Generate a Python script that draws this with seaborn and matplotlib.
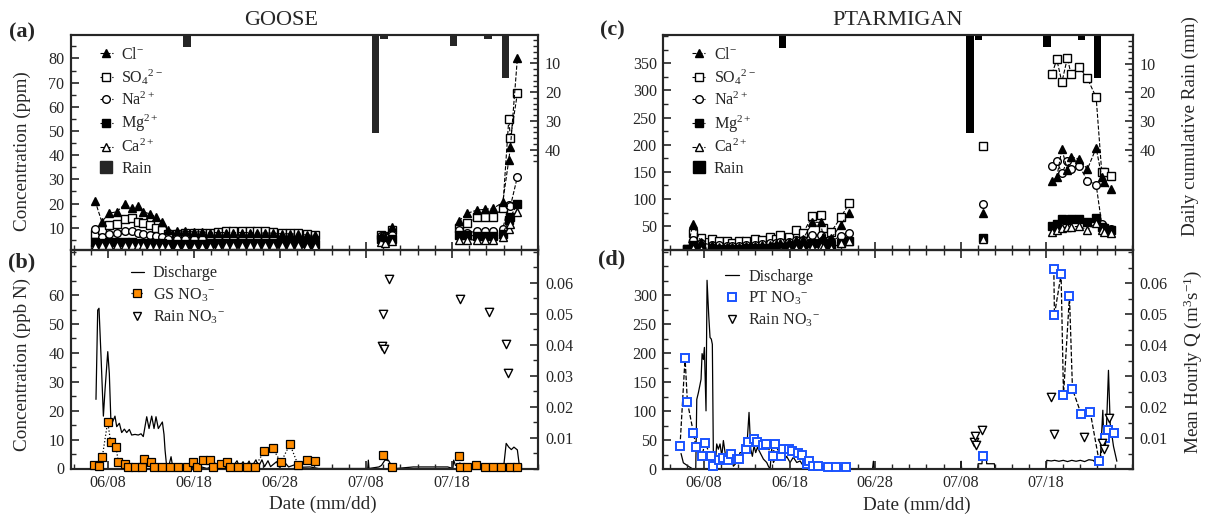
import numpy as np
import pandas as pd
import matplotlib
matplotlib.use('Agg')
import matplotlib.pyplot as plt
import seaborn as sns
from matplotlib.lines import Line2D
from matplotlib.ticker import MultipleLocator, FixedLocator

# x values are days counted from 1 June (06/08 -> 8, 07/18 -> 48)
DATE_TICKS = [8, 18, 28, 38, 48]
DATE_LABELS = ['06/08', '06/18', '06/28', '07/08', '07/18']

# GOOSE major ions (ppm), three sampling periods
GS_ION_DAYS = [6.49, 7.27, 8.15, 9.01, 9.98, 10.75, 11.53, 12.1, 12.88, 13.58, 14.24, 15.01, 15.98,
               16.95, 18.0, 18.89, 19.86, 20.83, 21.72, 22.57, 23.55, 24.51, 25.29, 26.26, 27.22,
               28.19, 29.16, 30.13, 31.1, 32.07,
               39.7, 40.2, 41.0,
               48.8, 49.8, 50.9, 51.8, 52.8, 53.9, 54.6, 54.8, 55.6]
GS_ION_SEGS = [30, 3, 9]
GS_CL = [21.2, 12.5, 16.0, 16.6, 19.8, 18.0, 19.0, 16.6, 15.7, 14.5, 12.5, 9.0, 8.8, 8.5, 8.3,
         8.3, 8.0, 8.0, 8.0, 8.0, 8.0, 8.0, 7.8, 7.8, 7.8, 7.5, 7.5, 7.3, 7.0, 6.8,
         6.5, 6.0, 10.4,
         12.8, 16.0, 17.3, 17.6, 18.0, 20.5, 38.0, 43.5, 80.0]
GS_SO4 = [7.5, 9.0, 11.0, 11.5, 13.5, 13.9, 12.5, 12.0, 11.0, 10.0, 9.0, 7.5, 7.5, 7.8, 7.8,
          8.0, 8.0, 8.2, 8.5, 8.5, 8.5, 8.5, 8.5, 8.5, 8.3, 8.0, 8.0, 7.8, 7.5, 7.0,
          7.0, 6.5, 9.0,
          10.0, 12.0, 14.5, 14.5, 14.5, 18.0, 54.8, 47.0, 65.5]
GS_NA = [9.3, 6.0, 7.5, 8.0, 8.5, 8.5, 8.0, 7.5, 7.2, 6.5, 6.2, 5.5, 5.5, 5.5, 5.5,
         5.5, 5.5, 5.5, 5.6, 5.6, 5.6, 5.6, 5.6, 5.6, 5.6, 5.5, 5.5, 5.5, 5.5, 5.5,
         6.5, 6.0, 7.0,
         9.0, 8.0, 8.5, 8.5, 8.5, 9.5, 19.4, 19.0, 31.0]
GS_MG = [4.2, 3.8, 4.0, 4.2, 4.2, 4.0, 3.8, 3.8, 3.6, 3.5, 3.5, 3.3, 3.3, 3.3, 3.3,
         3.3, 3.5, 3.5, 3.6, 3.6, 3.6, 3.6, 3.6, 3.6, 3.6, 3.6, 3.6, 3.6, 3.5, 3.3,
         5.5, 4.5, 5.5,
         7.0, 7.0, 6.5, 6.5, 6.5, 7.5, 13.0, 14.5, 19.8]
GS_CA = [2.5, 2.7, 2.8, 2.9, 2.9, 2.8, 2.7, 2.7, 2.6, 2.6, 2.6, 2.5, 2.5, 2.5, 2.5,
         2.5, 2.6, 2.6, 2.7, 2.7, 2.7, 2.7, 2.7, 2.7, 2.7, 2.7, 2.7, 2.7, 2.6, 2.5,
         4.0, 3.5, 4.5,
         5.0, 5.0, 5.0, 5.0, 5.0, 6.0, 9.5, 11.5, 16.6]

# PTARMIGAN major ions (ppm)
PT_ION_DAYS = [6.05, 6.71, 7.69, 8.97, 9.75, 10.69, 11.31, 12.09, 12.87, 13.92, 14.82, 15.68,
               16.38, 16.93, 17.94, 18.72, 19.58, 20.67, 21.64, 21.92, 22.89, 23.99, 24.96,
               40.67,
               48.7, 49.25, 49.84, 50.49, 50.89, 51.86, 52.83, 53.85, 54.5, 54.8, 55.56]
PT_ION_SEGS = [23, 1, 11]
PT_SO4 = [8, 37, 28, 26, 22, 22, 19, 22, 22, 26, 25, 30, 26, 34, 30, 42, 37, 69, 71, 46, 40, 66, 92,
          197,
          331, 357, 315, 360, 331, 343, 322, 287, 150, 150, 143]
PT_CL = [8, 54, 20, 15, 12, 12, 12, 12, 13, 14, 15, 16, 17, 18, 20, 24, 26, 57, 57, 30, 28, 52, 75,
         74,
         133, 140, 192, 153, 178, 173, 155, 194, 141, 132, 118]
PT_NA = [8, 25, 18, 16, 15, 14, 14, 14, 15, 16, 17, 18, 18, 20, 20, 24, 25, 33, 34, 24, 22, 32, 38,
         91,
         160, 170, 147, 170, 155, 161, 134, 126, 54, 48, 44]
PT_MG = [7, 15, 10, 9, 8, 8, 8, 8, 9, 9, 10, 10, 11, 12, 12, 14, 14, 18, 19, 15, 14, 18, 22,
         29,
         50, 54, 63, 62, 63, 63, 58, 65, 49, 46, 43]
PT_CA = [7, 10, 7, 7, 7, 7, 7, 7, 7, 7, 7, 7, 7, 8, 8, 10, 10, 12, 13, 11, 10, 18, 22,
         27,
         40, 43, 47, 48, 48, 50, 43, 56, 43, 40, 38]

# daily cumulative rain (mm)
GS_RAIN_DAYS = [17.2, 39.1, 40.1, 48.2, 52.2, 54.2]
GS_RAIN_MM = [4.3, 34.3, 1.5, 3.8, 1.5, 15.0]
PT_RAIN_DAYS = [17.2, 39.1, 40.1, 48.1, 52.1, 54.0]
PT_RAIN_MM = [4.6, 34.3, 1.8, 4.2, 1.8, 15.1]

# stream nitrate (ppb N)
GS_NO3_DAYS = [6.41, 6.99, 7.34, 7.96, 8.31, 8.93, 9.2, 9.98, 10.3, 11.14, 11.92, 12.22, 12.96,
               13.4, 14.24, 15.2, 16.17, 17.15, 17.92, 18.3, 19.01, 19.86, 20.24, 21.14, 21.8,
               22.19, 23.15, 24.13, 25.1, 26.17, 27.14, 28.1, 29.15, 30.12, 31.1, 32.07,
               40.0, 41.0,
               48.85, 48.95, 49.8, 50.8, 51.8, 52.8, 53.7, 54.7, 55.5]
GS_NO3_SEGS = [36, 2, 9]
GS_NO3 = [1.1, 0.7, 4.1, 16.2, 9.1, 7.4, 2.3, 1.7, 0.6, 0.6, 0.6, 3.2, 2.1,
          0.6, 0.6, 0.6, 0.6, 0.6, 2.3, 0.6, 2.8, 3.0, 0.6, 1.7, 2.1,
          0.6, 0.6, 0.6, 0.6, 6.1, 7.1, 2.1, 8.4, 1.1, 2.9, 2.6,
          4.8, 0.6,
          4.4, 0.6, 0.6, 1.2, 0.6, 0.6, 0.6, 0.6, 0.6]
PT_NO3_DAYS = [5.19, 5.78, 6.05, 6.75, 7.06, 7.73, 8.12, 8.78, 9.09, 9.75, 10.19, 10.77, 11.16,
               11.82, 12.13, 12.87, 13.18, 13.81, 14.16, 14.94, 15.25, 16.03, 16.3, 17.0, 17.28,
               17.98, 18.33, 19.03, 19.43, 20.01, 20.32, 20.79, 21.37, 22.47, 23.44, 24.57,
               40.67,
               48.9, 48.97, 49.75, 50.03, 50.73, 51.08, 52.09, 53.15, 54.2, 54.9, 55.2, 55.95]
PT_NO3_SEGS = [36, 1, 12]
PT_NO3 = [40, 192, 116, 63, 38, 22, 45, 22, 5, 15, 19, 15, 26,
          18, 18, 35, 47, 52, 46, 42, 43, 22, 43, 22, 34,
          35, 31, 27, 25, 9, 13, 5, 5, 4, 4, 3,
          23,
          346, 266, 336, 127, 299, 138, 95, 99, 13, 54, 67, 63]

# rain nitrate (ppb N)
GS_RAIN_NO3_DAYS = [39.82, 39.94, 40.09, 40.67, 48.93, 52.3, 54.28, 54.47]
GS_RAIN_NO3 = [42.3, 53.6, 41.2, 65.7, 58.8, 54.0, 43.0, 33.1]
PT_RAIN_NO3_DAYS = [39.62, 39.7, 39.81, 40.55, 48.58, 48.97, 52.48, 54.59, 54.78, 55.37]
PT_RAIN_NO3 = [46, 56.5, 42, 67, 124, 61, 55, 45, 35, 88]

# mean hourly discharge (m3/s)
GS_Q_DAYS = [6.60, 6.80, 6.95, 7.19, 7.46, 7.65, 7.97, 8.15, 8.35, 8.54, 8.81, 9.01, 9.32, 9.59,
             9.90, 10.17, 10.48, 10.75, 11.14, 11.52, 11.84, 12.10, 12.50, 12.77, 13.08, 13.35,
             13.58, 13.85, 14.32, 14.51, 14.63, 14.82, 15.00, 15.33, 15.55, 16.5, 17.5, 18.5,
             19.5, 20.0, 20.3, 20.6, 21.0, 21.4, 22.2, 22.5, 23.0, 23.3, 23.7, 24.0, 24.4, 24.7,
             25.2, 25.5, 25.9, 26.2, 26.6, 26.9, 27.6, 27.9, 28.6, 29.0, 30.0, 30.5, 31.5, 32.5,
             38.2, 38.27, 38.35, 39.5, 39.8, 40.2, 40.6, 41.0, 41.5, 43.5, 44.6, 46.6, 47.5,
             48.1, 48.2, 48.4, 49.0, 49.8, 50.2, 51.0, 52.0, 52.8, 53.3, 54.0, 54.3, 54.6, 54.9,
             55.2, 55.6, 55.8, 55.9]
GS_Q = [0.0223, 0.0511, 0.0517, 0.0360, 0.0169, 0.0253, 0.0377, 0.0307, 0.0140, 0.0151, 0.0169,
        0.0135, 0.0146, 0.0116, 0.0127, 0.0116, 0.0126, 0.0108, 0.0110, 0.0108, 0.0112, 0.0103,
        0.0167, 0.0129, 0.0169, 0.0129, 0.0167, 0.0129, 0.0150, 0.0110, 0.0060, 0.0006, 0.0,
        0.0038, 0.0, 0.0005, 0.0, 0.0008, 0.0, 0.0005, 0.0025, 0.0005, 0.0022, 0.0004, 0.0025,
        0.0005, 0.0025, 0.0005, 0.0022, 0.0004, 0.0024, 0.0005, 0.0028, 0.0006, 0.0028, 0.0006,
        0.0025, 0.0006, 0.0022, 0.0005, 0.0018, 0.0005, 0.0015, 0.0004, 0.0005, 0.0,
        0.0, 0.0027, 0.0, 0.0005, 0.0010, 0.0027, 0.0027, 0.0008, 0.0, 0.0005, 0.0005, 0.0005,
        0.0005, 0.0, 0.0027, 0.0010, 0.0012, 0.0010, 0.0004, 0.0012, 0.0012, 0.0008, 0.0012,
        0.0004, 0.0081, 0.0069, 0.0061, 0.0069, 0.0060, 0.0016, 0.0]
PT_Q_DAYS = [5.31, 5.58, 6.16, 6.68, 7.03, 7.15, 7.34, 7.53, 7.65, 7.77, 7.92, 8.04, 8.23, 8.35,
             8.55, 8.70, 8.85, 8.97, 9.09, 9.29, 9.48, 9.67, 9.87, 10.07, 10.26, 10.46, 10.65,
             10.84, 11.04, 11.24, 11.43, 11.82, 12.21, 12.60, 12.99, 13.26, 13.46, 13.65, 13.85,
             14.04, 14.24, 14.55, 14.94, 15.33, 15.52, 15.72, 15.91, 16.11, 16.50, 16.89, 17.08,
             17.47, 17.66, 18.06, 18.44, 18.84, 19.23, 19.62, 20.01, 20.40, 20.79, 21.18, 21.57,
             21.96, 22.35, 22.74, 23.12, 23.6, 27.7, 27.8, 27.9, 38.0, 38.06, 38.12,
             40.0, 40.05, 40.5, 40.55, 41.0, 41.05, 41.95, 42.0,
             48.0, 48.08, 48.6, 49.0, 49.5, 50.0, 50.5, 51.0, 51.5, 52.0, 52.5, 53.0, 53.5, 53.9,
             54.3, 54.63, 54.79, 55.0, 55.29, 55.49, 55.88, 56.27]
PT_Q = [0.0050, 0.0020, 0.0009, 0.0, 0.0, 0.0225, 0.0247, 0.0273, 0.0290, 0.0373, 0.0354, 0.0393,
        0.0188, 0.0610, 0.0495, 0.0425, 0.0420, 0.0403, 0.0041, 0.0009, 0.0081, 0.0064, 0.0081,
        0.0041, 0.0092, 0.0053, 0.0021, 0.0041, 0.0021, 0.0032, 0.0009, 0.0021, 0.0053, 0.0053,
        0.0064, 0.0183, 0.0064, 0.0041, 0.0075, 0.0053, 0.0070, 0.0053, 0.0032, 0.0021, 0.0009,
        0.0, 0.0064, 0.0021, 0.0041, 0.0064, 0.0041, 0.0032, 0.0041, 0.0021, 0.0038, 0.0021,
        0.0026, 0.0009, 0.0021, 0.0006, 0.0015, 0.0, 0.0006, 0.0, 0.0011, 0.0, 0.0006, 0.0,
        0.0, 0.0025, 0.0, 0.0, 0.0025, 0.0,
        0.0, 0.0017, 0.0017, 0.0044, 0.0040, 0.0017, 0.0017, 0.0,
        0.0, 0.0028, 0.0026, 0.0028, 0.0025, 0.0028, 0.0024, 0.0028, 0.0025, 0.0028, 0.0024,
        0.0030, 0.0028, 0.0017, 0.0015, 0.0190, 0.0060, 0.0090, 0.0319, 0.0147, 0.0073, 0.0025]

ORANGE = '#ff8c00'
BLUE = '#1a53ff'
TEXT_PT = 11.6
LABEL_PT = 13.8
MS = 5.5
ION_STYLE = {  # plotted in this order
    'SO4': ('s', 'white'),
    'Na': ('o', 'white'),
    'Mg': ('s', 'black'),
    'Ca': ('^', 'white'),
    'Cl': ('^', 'black'),
}
ION_LABELS = {'Cl': 'Cl$^{-}$', 'SO4': 'SO$_4$$^{2-}$', 'Na': 'Na$^{2+}$',
              'Mg': 'Mg$^{2+}$', 'Ca': 'Ca$^{2+}$'}

sns.set_style('ticks')
plt.rcParams['font.family'] = ['Liberation Serif', 'DejaVu Serif']
plt.rcParams['mathtext.fontset'] = 'custom'
plt.rcParams['mathtext.rm'] = 'Liberation Serif'
plt.rcParams['mathtext.it'] = 'Liberation Serif:italic'
plt.rcParams['mathtext.bf'] = 'Liberation Serif:bold'
plt.rcParams['axes.linewidth'] = 1.5
plt.rcParams['xtick.direction'] = 'in'
plt.rcParams['ytick.direction'] = 'in'


def seg_ids(segs):
    return np.repeat(np.arange(len(segs)), segs)


def ion_frame(days, segs, series):
    seg = seg_ids(segs)
    frames = [pd.DataFrame({'day': days, 'value': vals, 'ion': ion, 'seg': seg})
              for ion, vals in series.items()]
    return pd.concat(frames, ignore_index=True)


gs_ions = ion_frame(GS_ION_DAYS, GS_ION_SEGS,
                    {'Cl': GS_CL, 'SO4': GS_SO4, 'Na': GS_NA, 'Mg': GS_MG, 'Ca': GS_CA})
pt_ions = ion_frame(PT_ION_DAYS, PT_ION_SEGS,
                    {'Cl': PT_CL, 'SO4': PT_SO4, 'Na': PT_NA, 'Mg': PT_MG, 'Ca': PT_CA})
gs_no3 = pd.DataFrame({'day': GS_NO3_DAYS, 'value': GS_NO3, 'seg': seg_ids(GS_NO3_SEGS)})
pt_no3 = pd.DataFrame({'day': PT_NO3_DAYS, 'value': PT_NO3, 'seg': seg_ids(PT_NO3_SEGS)})

W, H = 1205, 519
fig = plt.figure(figsize=(W / 100, H / 100), dpi=100)


def px_axes(x0, y0, x1, y1):
    return fig.add_axes([x0 / W, 1 - y1 / H, (x1 - x0) / W, (y1 - y0) / H])


ax_a = px_axes(70.7, 34.7, 538, 250)
ax_b = px_axes(70.7, 250, 538, 468.5)
ax_c = px_axes(663, 35, 1132.5, 250)
ax_d = px_axes(663, 250, 1132.5, 469)


def style_x(ax, xlim, labels):
    ax.set_xlim(*xlim)
    ax.xaxis.set_major_locator(FixedLocator(DATE_TICKS))
    ax.xaxis.set_minor_locator(MultipleLocator(2))
    ax.set_xticklabels(DATE_LABELS if labels else [])
    ax.tick_params(axis='both', which='major', length=6, width=1.2, labelsize=TEXT_PT, pad=4.5)
    ax.tick_params(axis='both', which='minor', length=3.5, width=1.0)
    ax.tick_params(axis='y', which='both', right=False)
    if labels:
        ax.tick_params(axis='x', which='both', top=True)
        ax.set_xlabel('Date (mm/dd)', fontsize=LABEL_PT)
        ax.xaxis.set_label_coords(0.54, -0.125)
    else:
        ax.set_xlabel('')


def right_ticks(tw):
    tw.tick_params(axis='y', which='major', length=6, width=1.2, labelsize=TEXT_PT, pad=5)
    tw.tick_params(axis='y', which='minor', length=3.5, width=1.0)


def chem_panel(ax, df, rain_days, rain_mm, rain_color, ylim, yticks, yminor, xlim):
    for ion, (marker, face) in ION_STYLE.items():
        sns.lineplot(data=df[df['ion'] == ion], x='day', y='value', units='seg', estimator=None,
                     color='black', lw=0.8, ls='--', marker=marker, ms=MS, mfc=face,
                     mec='black', mew=1.0, ax=ax, zorder=3)
    ax.set_ylim(*ylim)
    ax.yaxis.set_major_locator(FixedLocator(yticks))
    ax.yaxis.set_minor_locator(MultipleLocator(yminor))
    ax.set_ylabel('')
    style_x(ax, xlim, False)

    # rain hangs from the top on an inverted right axis
    tw = ax.twinx()
    tw.bar(rain_days, rain_mm, width=0.85, color=rain_color, linewidth=0)
    tw.set_ylim(75, 0)
    tw.yaxis.set_major_locator(FixedLocator([10, 20, 30, 40]))
    tw.yaxis.set_minor_locator(FixedLocator(np.arange(2, 46, 2)))
    right_ticks(tw)
    ax.set_zorder(tw.get_zorder() + 1)
    ax.patch.set_visible(False)

    handles = []
    for ion in ['Cl', 'SO4', 'Na', 'Mg', 'Ca']:
        marker, face = ION_STYLE[ion]
        handles.append(Line2D([], [], color='black', lw=0.8, ls='--', marker=marker, ms=MS,
                              mfc=face, mec='black', mew=1.0, label=ION_LABELS[ion]))
    handles.append(Line2D([], [], ls='none', marker='s', ms=8, mfc=rain_color, mec=rain_color,
                          label='Rain'))
    ax.legend(handles=handles, loc='upper left', bbox_to_anchor=(0.062, 0.945), frameon=False,
              fontsize=TEXT_PT, handlelength=0.8, handletextpad=0.55, labelspacing=0.28,
              borderpad=0, borderaxespad=0)
    return tw


def no3_panel(ax, df, color, face, ls, mew, rain_days, rain_vals, q_days, q_vals,
              ylim, yticks, qlim, xlim, name, legend_line):
    tw = ax.twinx()
    sns.lineplot(x=q_days, y=q_vals, estimator=None, sort=False, color='black', lw=0.9, ax=tw)
    tw.set_ylim(*qlim)
    tw.yaxis.set_major_locator(FixedLocator([0.01, 0.02, 0.03, 0.04, 0.05, 0.06]))
    tw.yaxis.set_minor_locator(MultipleLocator(0.005))
    right_ticks(tw)
    tw.set_ylabel('')

    sns.lineplot(data=df, x='day', y='value', units='seg', estimator=None, color='black',
                 lw=0.9, ls=ls, marker='s', ms=6, mfc=face, mec=color, mew=mew,
                 clip_on=False, ax=ax, zorder=3)
    sns.scatterplot(x=rain_days, y=rain_vals, marker='v', s=36, color='white', edgecolor='black',
                    linewidth=1.0, ax=ax, zorder=4)
    ax.set_ylim(*ylim)
    ax.yaxis.set_major_locator(FixedLocator(yticks))
    ax.yaxis.set_minor_locator(MultipleLocator((yticks[1] - yticks[0]) / 2))
    ax.set_ylabel('')
    style_x(ax, xlim, True)
    ax.set_zorder(tw.get_zorder() + 1)
    ax.patch.set_visible(False)

    handles = [Line2D([], [], color='black', lw=0.9, label='Discharge'),
               Line2D([], [], color='black', lw=0.9, ls=ls if legend_line else 'none',
                      marker='s', ms=6, mfc=face, mec=color, mew=mew,
                      label=name + ' NO$_3$$^{-}$'),
               Line2D([], [], ls='none', marker='v', ms=6, mfc='white', mec='black', mew=1.0,
                      label='Rain NO$_3$$^{-}$')]
    return tw, handles


# (a) GOOSE ions
tw_a = chem_panel(ax_a, gs_ions, GS_RAIN_DAYS, GS_RAIN_MM, '#262626',
                  (0.8, 89.8), [10, 20, 30, 40, 50, 60, 70, 80], 5, (3.66, 58.0))
ax_a.set_ylabel('Concentration (ppm)', fontsize=LABEL_PT)
ax_a.yaxis.set_label_coords(-0.085, 0.46)
ax_a.text(0.45, 1.068, 'GOOSE', transform=ax_a.transAxes, ha='center', va='center', fontsize=16)

# (c) PTARMIGAN ions
tw_c = chem_panel(ax_c, pt_ions, PT_RAIN_DAYS, PT_RAIN_MM, 'black',
                  (6, 402), [50, 100, 150, 200, 250, 300, 350], 25, (3.2, 58.1))
tw_c.set_ylabel('Daily cumulative Rain (mm)', fontsize=LABEL_PT)
tw_c.yaxis.set_label_coords(1.105, 0.577)
ax_c.text(0.5, 1.068, 'PTARMIGAN', transform=ax_c.transAxes, ha='center', va='center',
          fontsize=16)

# (b) GOOSE nitrate
tw_b, h_b = no3_panel(ax_b, gs_no3, 'black', ORANGE, ':', 0.9, GS_RAIN_NO3_DAYS, GS_RAIN_NO3,
                      GS_Q_DAYS, GS_Q, (0, 75.6), [0, 10, 20, 30, 40, 50, 60], (0, 0.0705),
                      (3.66, 58.0), 'GS', True)
ax_b.set_ylabel('Concentration (ppb N)', fontsize=LABEL_PT)
ax_b.yaxis.set_label_coords(-0.085, 0.474)
ax_b.legend(handles=h_b, loc='upper left', bbox_to_anchor=(0.129, 0.93), frameon=False,
            fontsize=TEXT_PT, handlelength=0.8, handletextpad=0.55, labelspacing=0.3,
            borderpad=0, borderaxespad=0)

# (d) PTARMIGAN nitrate
tw_d, h_d = no3_panel(ax_d, pt_no3, BLUE, 'white', '--', 1.4, PT_RAIN_NO3_DAYS, PT_RAIN_NO3,
                      PT_Q_DAYS, PT_Q, (0, 378), [0, 50, 100, 150, 200, 250, 300], (0, 0.0708),
                      (3.2, 58.1), 'PT', False)
tw_d.set_ylabel('Mean Hourly Q (m$^3$s$^{-1}$)', fontsize=LABEL_PT)
tw_d.yaxis.set_label_coords(1.105, 0.489)
ax_d.legend(handles=h_d, loc='upper left', bbox_to_anchor=(0.132, 0.915), frameon=False,
            fontsize=TEXT_PT, handlelength=0.9, handletextpad=0.55, labelspacing=0.3,
            borderpad=0, borderaxespad=0)

# panel letters
for letter, (px, py) in {'(a)': (22, 32), '(b)': (22, 262), '(c)': (612, 30),
                         '(d)': (612, 259)}.items():
    fig.text(px / W, 1 - py / H, letter, ha='center', va='center', fontsize=16,
             fontweight='bold')

fig.savefig('out.png', dpi=100)
plt.close(fig)
